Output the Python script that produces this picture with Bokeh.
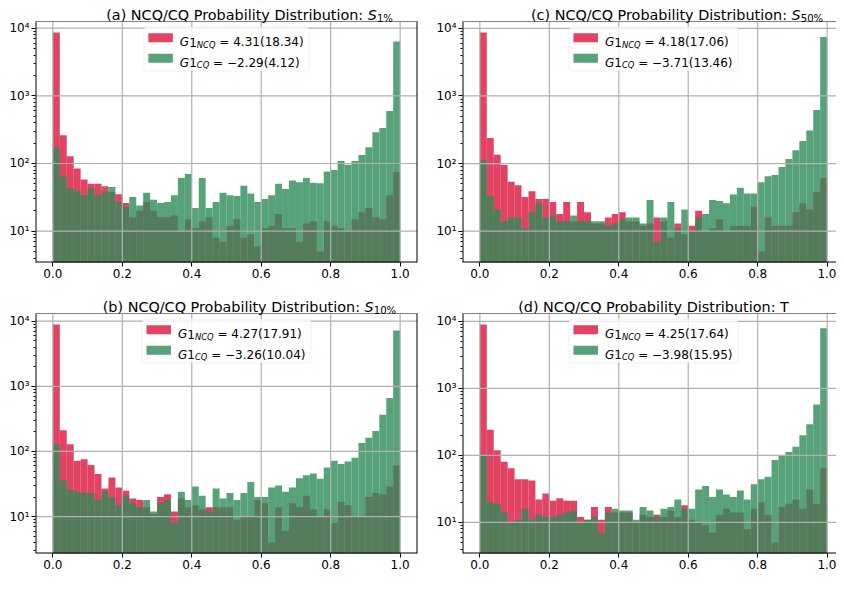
import numpy as np
from bokeh.plotting import figure
from bokeh.layouts import column, row
from bokeh.models import (Range1d, FixedTicker, CustomJSTickFormatter, BoxAnnotation, Label)
from bokeh.embed import file_html
from bokeh.resources import INLINE

# ---------------- data (counts per bin, 50 bins on [0, 1]) ----------------
N_BINS = 50
x_ticks = [0.0, 0.2, 0.4, 0.6, 0.8, 1.0]
y_ticks = [10, 100, 1000, 10000]

ncq_s1 = [8630, 261, 128, 84, 58, 50, 50, 46, 38, 35,
          26, 16, 20, 27, 20, 16, 16, 17, 10, 15,
          11, 14, 16, 8, 7, 12, 15, 8, 9, 6,
          11, 12, 18, 11, 11, 7, 13, 14, 5, 14,
          12, 11, 10, 15, 19, 22, 16, 15, 34, 75]
cq_s1 = [172, 65, 43, 40, 34, 43, 34, 39, 45, 27,
         23, 32, 24, 37, 29, 26, 27, 34, 61, 70,
         22, 61, 22, 27, 37, 34, 33, 47, 36, 27,
         30, 34, 50, 42, 56, 53, 61, 52, 51, 76,
         80, 109, 96, 109, 134, 174, 289, 335, 596, 6370]

ncq_s10 = [8900, 211, 129, 72, 76, 62, 45, 27, 40, 28,
           25, 19, 18, 14, 11, 20, 22, 12, 19, 14,
           15, 13, 14, 14, 14, 14, 9, 10, 10, 18,
           16, 4, 14, 6, 16, 14, 21, 13, 10, 13,
           8, 17, 15, 10, 10, 20, 23, 22, 29, 61]
cq_s10 = [129, 36, 26, 24, 23, 23, 18, 25, 20, 15,
          21, 16, 14, 18, 12, 16, 18, 8, 24, 18,
          29, 21, 12, 27, 19, 23, 18, 23, 34, 20,
          20, 28, 30, 24, 28, 39, 43, 46, 38, 57,
          72, 64, 70, 80, 135, 163, 206, 366, 664, 7200]

ncq_s50 = [8700, 240, 135, 95, 54, 48, 32, 39, 30, 30,
           27, 18, 27, 14, 27, 19, 13, 13, 16, 18,
           19, 14, 14, 12, 13, 16, 14, 8, 13, 9,
           12, 20, 10, 11, 15, 10, 12, 12, 12, 23,
           5, 16, 12, 12, 12, 19, 26, 21, 38, 61]
cq_s50 = [112, 33, 21, 14, 16, 16, 11, 19, 26, 16,
          17, 14, 14, 17, 14, 14, 14, 14, 12, 13,
          15, 16, 16, 13, 29, 7, 16, 27, 11, 21,
          10, 16, 18, 29, 28, 26, 35, 44, 36, 36,
          53, 65, 68, 89, 117, 157, 215, 309, 622, 7460]

ncq_t = [8980, 242, 119, 80, 64, 44, 44, 42, 22, 27,
         21, 23, 21, 21, 12, 11, 17, 11, 17, 14,
         14, 14, 10, 13, 12, 13, 12, 15, 12, 18,
         11, 10, 9, 7, 13, 16, 14, 14, 8, 16,
         20, 13, 5, 17, 19, 22, 16, 31, 19, 64]
cq_t = [100, 20, 19, 14, 10, 11, 16, 11, 13, 12,
        12, 13, 14, 15, 10, 11, 12, 7, 14, 16,
        15, 15, 11, 17, 15, 12, 16, 17, 22, 16,
        16, 31, 35, 24, 31, 26, 24, 30, 22, 37,
        44, 48, 85, 100, 112, 134, 199, 290, 573, 7840]

title_main = "NCQ/CQ Probability Distribution:"
title_sym = {"a": ("S", "1%"), "b": ("S", "10%"), "c": ("S", "50%"), "d": ("T", None)}
legend_ncq = {"a": "4.31(18.34)", "b": "4.27(17.91)", "c": "4.18(17.06)", "d": "4.25(17.64)"}
legend_cq = {"a": "\u22122.29(4.12)", "b": "\u22123.26(10.04)", "c": "\u22123.71(13.46)",
             "d": "\u22123.98(15.95)"}
series = {"a": (ncq_s1, cq_s1), "b": (ncq_s10, cq_s10), "c": (ncq_s50, cq_s50), "d": (ncq_t, cq_t)}

# ---------------- style ----------------
RED = "#DC143C"
GREEN = "#2E8B57"
FONT = "DejaVu Sans"
TS = 14.4          # title size
LS = 12.0          # legend / tick size

ADV = {'0': .636, '1': .636, '2': .636, '3': .636, '4': .636, '5': .636, '6': .636, '7': .636,
       '8': .636, '9': .636, '.': .318, '(': .390, ')': .390, '=': .838, '\u2212': .838, ' ': .318,
       'G': .775, 'N': .748, 'C': .698, 'Q': .787, '%': .950, 'S': .635, 'T': .611}


def tw(s, size):
    return sum(ADV.get(c, 0.6) for c in s) * size


edges = np.linspace(0.0, 1.0, N_BINS + 1)
PXU = 382 / 1.1  # pixels per data unit in x


def txt(text, dx, dy, size, ytop, italic=False, align="left"):
    return Label(x=0.5, y=ytop, x_offset=dx, y_offset=dy, text=text,
                 text_font=FONT, text_font_size=f"{size:.2f}px",
                 text_font_style="italic" if italic else "normal",
                 text_align=align, text_baseline="alphabetic", text_color="black")


def make_panel(tag, col, rw):
    ncq, cq = series[tag]
    if col == 0:
        bl, fw, br = 35, 382, 5
    else:
        bl, fw, br = 40, 374, 0
    if rw == 0:
        ext, ph, bb = 21, 241, 21      # title band above the axes, axes height, bottom border
    else:
        ext, ph, bb = 30, 240, 20
    x0 = -0.05
    x1 = x0 + fw / PXU
    vals = np.array(ncq + cq, dtype=float)
    lmin, lmax = np.log10(vals.min()), np.log10(vals.max())
    m = 0.05 * (lmax - lmin)
    lo, hi = lmin - m, lmax + m
    ppd = ph / (hi - lo)
    ybot, ytop = 10 ** lo, 10 ** hi
    yext = 10 ** (hi + ext / ppd)   # frame also holds the title band

    p = figure(title=None, frame_width=fw, frame_height=ph + ext,
               min_border_left=bl, min_border_right=br, min_border_top=0, min_border_bottom=bb,
               x_range=Range1d(x0, x1), y_range=Range1d(ybot, yext),
               y_axis_type="log", output_backend="svg", toolbar_location=None)
    p.background_fill_color = "white"
    p.border_fill_color = "white"
    p.outline_line_color = None
    p.grid.visible = False

    p.quad(left=edges[:-1], right=edges[1:], bottom=1e-2, top=ncq,
           fill_color=RED, fill_alpha=0.8, line_color=None)
    p.quad(left=edges[:-1], right=edges[1:], bottom=1e-2, top=cq,
           fill_color=GREEN, fill_alpha=0.8, line_color=None)
    # cover the bars above the axes box (title band stays white)
    p.add_layout(BoxAnnotation(left=x0, right=x1, bottom=ytop, top=yext,
                               fill_color="white", fill_alpha=1, line_color=None,
                               level="glyph"))

    # grid lines (drawn over the bars, limited to the axes box)
    nx, ny = len(x_ticks), len(y_ticks)
    p.segment(x0=x_ticks, y0=[ybot] * nx, x1=x_ticks, y1=[ytop] * nx,
              line_color="#b0b0b0", line_width=1.2)
    p.segment(x0=[x0] * ny, y0=y_ticks, x1=[x1] * ny, y1=y_ticks,
              line_color="#b0b0b0", line_width=1.2)
    # spines
    p.segment(x0=[x0, x0], y0=[ybot, ybot], x1=[x0, x1], y1=[ytop, ybot],
              line_color="black", line_width=2)
    p.segment(x0=[x0], y0=[ytop], x1=[x1], y1=[ytop], line_color="black", line_width=1)
    if col == 0:
        p.segment(x0=[x1], y0=[ybot], x1=[x1], y1=[ytop], line_color="black", line_width=2)

    p.xaxis.ticker = FixedTicker(ticks=x_ticks)
    p.xaxis.formatter = CustomJSTickFormatter(code="return tick.toFixed(1);")
    minors = [mm * 10 ** e for e in range(0, 5) for mm in range(2, 10) if mm * 10 ** e < ytop]
    p.yaxis.ticker = FixedTicker(ticks=y_ticks, minor_ticks=minors)
    p.yaxis.formatter = CustomJSTickFormatter(code="""
        const e = Math.round(Math.log10(tick));
        const sup = {"0":"\u2070","1":"\u00b9","2":"\u00b2","3":"\u00b3","4":"\u2074",
                     "5":"\u2075","6":"\u2076","7":"\u2077","8":"\u2078","9":"\u2079","-":"\u207b"};
        return "10" + String(e).split("").map(c => sup[c]).join("");
    """)
    for ax in [p.xaxis[0], p.yaxis[0]]:
        ax.axis_line_color = None
        ax.major_tick_line_color = "black"
        ax.major_tick_out = 4
        ax.major_tick_in = 0
        ax.minor_tick_in = 0
        ax.minor_tick_out = 2
        ax.minor_tick_line_color = "black"
        ax.major_label_text_font = FONT
        ax.major_label_text_font_size = "12px"
        ax.major_label_text_color = "black"
        ax.major_label_standoff = 2
    p.xaxis.minor_tick_line_color = None

    # ---- title (inside the frame's top band) ----
    gap = 6.7
    sym, sub = title_sym[tag]
    main = f"({tag}) {title_main}"
    if sub is None:
        p.add_layout(txt(f"{main} {sym}", 0, gap, TS, ytop, align="center"))
    else:
        ss = 0.7 * TS
        w_main = tw(main + " ", TS)
        total = w_main + tw(sym, TS) + tw(sub, ss)
        sx = -total / 2 + w_main
        p.add_layout(txt(main, sx - tw(" ", TS), gap, TS, ytop, align="right"))
        p.add_layout(txt(sym, sx, gap, TS, ytop, italic=True))
        p.add_layout(txt(sub, sx + tw(sym, TS), gap - 3.3, ss, ytop))

    # ---- legend (drawn by hand: upper center) ----
    lss = 0.7 * LS
    rows = [(RED, "NCQ", "= " + legend_ncq[tag]), (GREEN, "CQ", "= " + legend_cq[tag])]
    widths = [tw("G1", LS) + tw(s, lss) + tw(" " + r, LS) for _, s, r in rows]
    W = 36 + max(widths) + 5.5
    bx0 = -W / 2

    def ydat(d):
        return 10 ** (hi - d / ppd)

    p.add_layout(BoxAnnotation(left=0.5 + bx0 / PXU, right=0.5 + (bx0 + W) / PXU,
                               top=ydat(5.5), bottom=ydat(49.5),
                               fill_color="white", fill_alpha=0.8,
                               line_color="#cccccc", line_width=1, border_radius=3))
    centers = [16.3, 36.7]
    for (colr, s, r), c in zip(rows, centers):
        p.add_layout(BoxAnnotation(left=0.5 + (bx0 + 4.5) / PXU, right=0.5 + (bx0 + 29) / PXU,
                                   top=ydat(c - 4.5), bottom=ydat(c + 4.5),
                                   fill_color=colr, fill_alpha=0.8, line_color=None))
        tx = bx0 + 36
        base = -(c + 4.3)
        p.add_layout(txt("G", tx, base, LS, ytop, italic=True))
        tx += tw("G", LS)
        p.add_layout(txt("1", tx, base, LS, ytop))
        tx += tw("1", LS)
        p.add_layout(txt(s, tx, base - 2.5, lss, ytop, italic=True))
        tx += tw(s, lss) + tw(" ", LS)
        p.add_layout(txt(r, tx, base, LS, ytop))
    return p


pa = make_panel("a", 0, 0)
pc = make_panel("c", 1, 0)
pb = make_panel("b", 0, 1)
pd = make_panel("d", 1, 1)

layout = row(column(pa, pb), column(pc, pd))

with open("out.html", "w", encoding="utf-8") as f:
    f.write(file_html(layout, INLINE, title="NCQ/CQ Probability Distribution"))
